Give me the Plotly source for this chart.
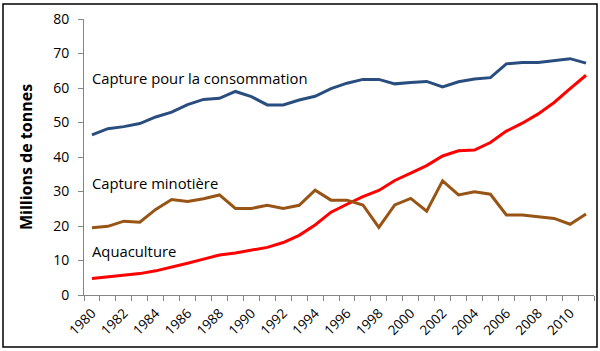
import plotly.graph_objects as go

years = list(range(1980, 2012))

capture_conso = [46.4, 48.2, 48.8, 49.7, 51.6, 53.0, 55.2, 56.7, 57.0, 59.0,
                 57.5, 55.1, 55.1, 56.5, 57.6, 59.8, 61.4, 62.5, 62.5, 61.2,
                 61.6, 61.9, 60.3, 61.8, 62.6, 63.0, 67.0, 67.4, 67.4, 68.0,
                 68.5, 67.2]

aquaculture = [4.8, 5.3, 5.7, 6.2, 7.0, 8.0, 9.2, 10.4, 11.6, 12.2,
               13.0, 13.8, 15.2, 17.3, 20.3, 24.0, 26.3, 28.5, 30.3, 33.2,
               35.3, 37.5, 40.3, 41.8, 42.0, 44.2, 47.5, 49.8, 52.5, 55.8,
               59.8, 63.7]

capture_mino = [19.5, 19.9, 21.4, 21.1, 24.8, 27.7, 27.1, 27.9, 29.0, 25.1,
                25.1, 26.0, 25.1, 26.0, 30.4, 27.5, 27.5, 26.1, 19.6, 26.1,
                28.0, 24.3, 33.1, 29.0, 29.9, 29.2, 23.2, 23.2, 22.7, 22.2,
                20.5, 23.5]

label_years = list(range(1980, 2011, 2))
y_ticks = list(range(0, 81, 10))

FONT = "Open Sans"

fig = go.Figure()
fig.add_trace(go.Scatter(x=years, y=capture_conso, mode="lines",
                         line=dict(color="#2A4D80", width=3), name="Capture pour la consommation"))
fig.add_trace(go.Scatter(x=years, y=aquaculture, mode="lines",
                         line=dict(color="#FF0000", width=3), name="Aquaculture"))
fig.add_trace(go.Scatter(x=years, y=capture_mino, mode="lines",
                         line=dict(color="#985414", width=3), name="Capture minotière"))

annos = [
    ("Capture pour la consommation", 1979.9, 78),
    ("Capture minotière", 1979.9, 183),
    ("Aquaculture", 1979.9, 251),
]
for text, xv, py in annos:
    fig.add_annotation(x=xv, xref="x", y=(295 - py) / 3.45, yref="y", text=text,
                       showarrow=False, xanchor="left", yanchor="middle",
                       font=dict(family=FONT, size=14.8, color="#000000"))

L, R, T, B = 84, 594, 19, 295
W, H = 600, 351
pw, ph = R - L, B - T
fig.add_shape(type="rect", xref="paper", yref="paper",
              x0=(3 - L) / pw, x1=(597 - L) / pw,
              y0=(B - 347) / ph, y1=(B - 4) / ph,
              line=dict(color="#000000", width=1.5), layer="above")

fig.update_layout(
    width=W, height=H,
    margin=dict(l=L, r=W - R, t=T, b=H - B),
    paper_bgcolor="white", plot_bgcolor="white",
    showlegend=False,
    font=dict(family=FONT, color="#000000"),
    xaxis=dict(
        range=[1979.5, 2011.5],
        tickmode="array", tickvals=label_years, ticktext=[str(y) for y in label_years],
        tickangle=-45, ticks="", showgrid=False, zeroline=False,
        showline=True, linecolor="#868686", linewidth=1,
        tickfont=dict(family=FONT, size=13.5, color="#000000"),
        ticklabelstandoff=4,
        minor=dict(tickmode="array", tickvals=[y - 0.5 for y in years + [2012]],
                   ticks="outside", ticklen=5, tickcolor="#868686", showgrid=False),
    ),
    yaxis=dict(
        range=[0, 80], tickmode="array", tickvals=y_ticks,
        ticks="outside", ticklen=5, tickcolor="#868686",
        showline=True, linecolor="#868686", linewidth=1,
        showgrid=False, zeroline=False,
        ticklabelstandoff=6,
        tickfont=dict(family=FONT, size=14, color="#000000"),
        title=dict(text="<b>Millions de tonnes</b>", font=dict(family=FONT, size=16, color="#000000"),
                   standoff=16),
    ),
)

fig.write_html("out.html")
